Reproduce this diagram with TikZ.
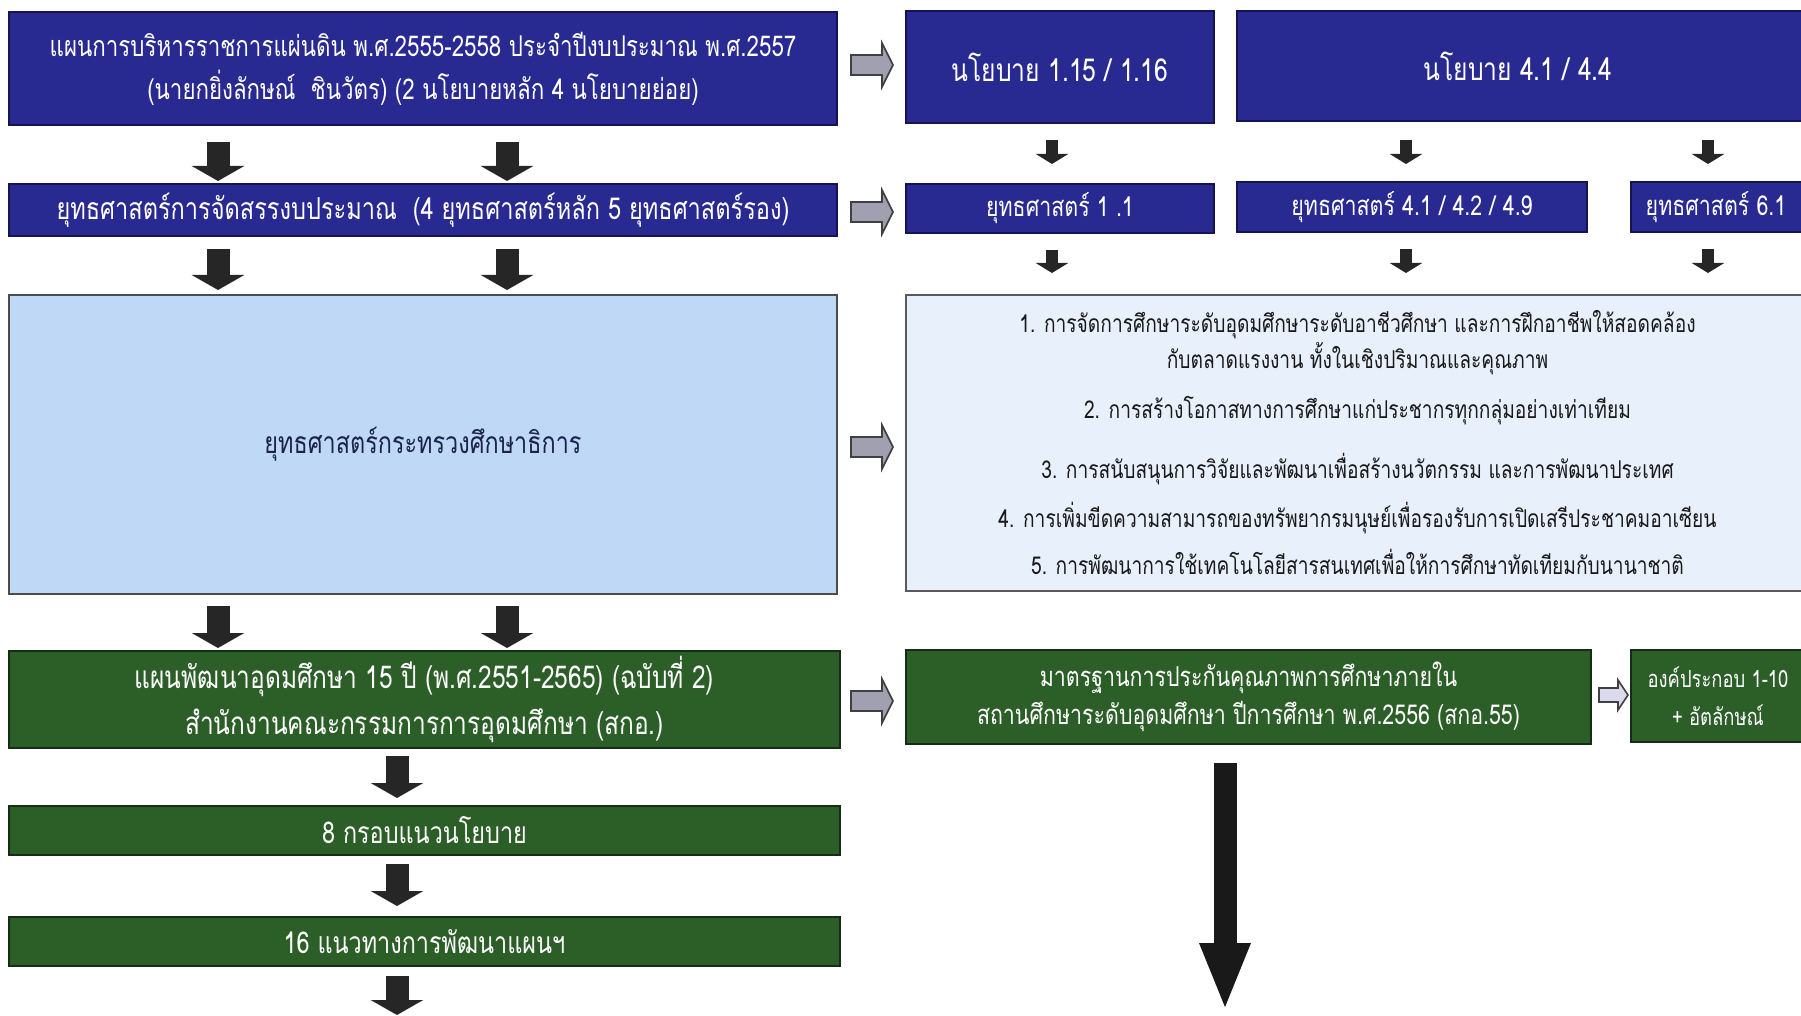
\documentclass[tikz,border=0pt]{standalone}
\usepackage{fontspec}
\setmainfont[Script=Thai, FakeStretch=0.78]{Loma}
\usetikzlibrary{arrows.meta,calc}
\definecolor{bluebox}{RGB}{40,42,146}
\definecolor{blueedge}{RGB}{20,20,80}
\definecolor{greenbox}{RGB}{44,94,40}
\definecolor{greenedge}{RGB}{20,45,20}
\definecolor{lightbluebox}{RGB}{190,216,246}
\definecolor{paleblue}{RGB}{232,240,252}
\definecolor{grayarrow}{RGB}{160,160,176}
\definecolor{palearrow}{RGB}{218,218,236}
\definecolor{navytext}{RGB}{25,35,75}
\tikzset{
  box/.style={rectangle, inner sep=0pt, outer sep=0pt, align=center, line width=1.2pt},
  bluebx/.style={box, fill=bluebox, draw=blueedge, text=white},
  greenbx/.style={box, fill=greenbox, draw=greenedge, text=white},
  blk/.style={line width=11.5pt, black!85, -{Triangle[width=26pt,length=7.5pt]}},
  blksmall/.style={line width=6pt, black!85, -{Triangle[width=16pt,length=5pt]}},
  blkbig/.style={line width=11.5pt, black!90, -{Triangle[width=23pt,length=34pt]}},
  garrow/.pic={\draw[fill=grayarrow, draw=black!75, line width=0.8pt]
     (0,-10) -- (31,-10) -- (31,-22) -- (42,0) -- (31,22) -- (31,10) -- (0,10) -- cycle;},
  garrowsmall/.pic={\draw[fill=palearrow, draw=black!75, line width=0.8pt]
     (0,-7) -- (19,-7) -- (19,-15) -- (29,0) -- (19,15) -- (19,7) -- (0,7) -- cycle;},
  mid/.style={font=\fontsize{13.7}{19}\selectfont},
}
\begin{document}
\begin{tikzpicture}[x=0.5pt,y=-0.5pt]
\useasboundingbox[fill=white] (0,0) rectangle (1801,1016);
% left column
\node[bluebx, font=\fontsize{14.3}{21.5}\selectfont, minimum width=414pt, minimum height=56.5pt] (A) at (423,68.5)
  {แผนการบริหารราชการแผ่นดิน พ.ศ.2555-2558 ประจำปีงบประมาณ พ.ศ.2557\\(นายกยิ่งลักษณ์~~ชินวัตร) (2 นโยบายหลัก 4 นโยบายย่อย)};
\node[bluebx, font=\fontsize{15.1}{21}\selectfont, minimum width=414pt, minimum height=26pt] (D) at (423,210)
  {ยุทธศาสตร์การจัดสรรงบประมาณ~~(4 ยุทธศาสตร์หลัก 5 ยุทธศาสตร์รอง)};
\node[box, fill=lightbluebox, draw=black!70, text=navytext, font=\fontsize{15}{21}\selectfont, minimum width=414pt, minimum height=149.5pt] (H) at (423,444.5)
  {ยุทธศาสตร์กระทรวงศึกษาธิการ};
\node[greenbx, font=\fontsize{15.7}{23}\selectfont, minimum width=415.5pt, minimum height=48.5pt] (J) at (424.5,699.5)
  {แผนพัฒนาอุดมศึกษา 15 ปี (พ.ศ.2551-2565) (ฉบับที่ 2)\\สำนักงานคณะกรรมการการอุดมศึกษา (สกอ.)};
\node[greenbx, font=\fontsize{15}{21}\selectfont, minimum width=415.5pt, minimum height=24.5pt] (M) at (424.5,830.5) {8 กรอบแนวนโยบาย};
\node[greenbx, font=\fontsize{15}{21}\selectfont, minimum width=415.5pt, minimum height=24.5pt] (N) at (424.5,941.5) {16 แนวทางการพัฒนาแผนฯ};
% right side
\node[bluebx, font=\fontsize{15.8}{21}\selectfont, minimum width=154pt, minimum height=56pt] (B) at (1060,67) {นโยบาย 1.15 / 1.16};
\node[bluebx, font=\fontsize{15.8}{21}\selectfont, minimum width=286pt, minimum height=55pt] (C) at (1523,66) {\hspace*{-5pt}นโยบาย 4.1 / 4.4};
\node[bluebx, mid, minimum width=154pt, minimum height=24.5pt] (E) at (1060,208.5) {ยุทธศาสตร์ 1 .1};
\node[bluebx, mid, minimum width=175pt, minimum height=25pt] (F) at (1412,207) {ยุทธศาสตร์ 4.1 / 4.2 / 4.9};
\node[bluebx, mid, minimum width=89pt, minimum height=25pt] (G) at (1720,207) {\hspace*{-4pt}ยุทธศาสตร์ 6.1};
\node[box, fill=paleblue, draw=black!65, text=black!90, font=\fontsize{12.3}{18}\selectfont,
      minimum width=451.5pt, minimum height=148pt] (I) at (1357.5,443)
  {1. การจัดการศึกษาระดับอุดมศึกษาระดับอาชีวศึกษา และการฝึกอาชีพให้สอดคล้อง\\
   กับตลาดแรงงาน ทั้งในเชิงปริมาณและคุณภาพ\\[7pt]
   2. การสร้างโอกาสทางการศึกษาแก่ประชากรทุกกลุ่มอย่างเท่าเทียม\\[12pt]
   3. การสนับสนุนการวิจัยและพัฒนาเพื่อสร้างนวัตกรรม และการพัฒนาประเทศ\\[6.5pt]
   4. การเพิ่มขีดความสามารถของทรัพยากรมนุษย์เพื่อรองรับการเปิดเสรีประชาคมอาเซียน\\[5.5pt]
   5. การพัฒนาการใช้เทคโนโลยีสารสนเทศเพื่อให้การศึกษาทัดเทียมกับนานาชาติ};
\node[greenbx, font=\fontsize{13.7}{19}\selectfont, minimum width=342.5pt, minimum height=47pt] (K) at (1248.5,697)
  {มาตรฐานการประกันคุณภาพการศึกษาภายใน\\สถานศึกษาระดับอุดมศึกษา ปีการศึกษา พ.ศ.2556 (สกอ.55)};
\node[greenbx, font=\fontsize{11.8}{19}\selectfont, minimum width=89pt, minimum height=46pt] (L) at (1720,696)
  {\hspace*{-2pt}องค์ประกอบ 1-10\\\hspace*{-2pt}+ อัตลักษณ์};
% gray arrows
\pic at ($(A.east)+(14,-3.5)$) {garrow};
\pic at ($(D.east)+(14,2)$) {garrow};
\pic at ($(H.east)+(14,2.5)$) {garrow};
\pic at ($(J.east)+(11,1.5)$) {garrow};
\pic at ($(K.east)+(8,-2)$) {garrowsmall};
% black arrows left column
\draw[blk] ($(A.south west)+(209,17)$) -- ($(D.north west)+(209,-3)$);
\draw[blk] ($(A.south west)+(498,17)$) -- ($(D.north west)+(498,-3)$);
\draw[blk] ($(D.south west)+(209,13)$) -- ($(H.north west)+(209,-5)$);
\draw[blk] ($(D.south west)+(498,13)$) -- ($(H.north west)+(498,-5)$);
\draw[blk] ($(H.south west)+(209,12)$) -- ($(J.north west)+(209,-3)$);
\draw[blk] ($(H.south west)+(498,12)$) -- ($(J.north west)+(498,-3)$);
\draw[blk] ($(J.south west)+(388,8)$) -- ($(M.north west)+(388,-8)$);
\draw[blk] ($(M.south west)+(388,9)$) -- ($(N.north west)+(388,-11)$);
\coordinate (Nend) at ($(N.south west)+(388,49)$);
\draw[blk] ($(N.south west)+(388,10)$) -- (Nend);
% small black arrows right
\draw[blksmall] ($(B.south)+(-8,17)$) -- ($(E.north)+(-8,-20)$);
\draw[blksmall] ($(C.south west)+(169,19)$) -- ($(F.north)+(-6,-18)$);
\draw[blksmall] ($(C.south west)+(471,19)$) -- ($(G.north)+(-12,-18)$);
\draw[blksmall] ($(E.south)+(-8,17)$) -- ($(I.north west)+(146,-22)$);
\draw[blksmall] ($(F.south)+(-6,17)$) -- ($(I.north west)+(500,-22)$);
\draw[blksmall] ($(G.south)+(-12,17)$) -- ($(I.north west)+(802,-22)$);
% big arrow
\coordinate (Kend) at ($(K.south)+(-23.5,267)$);
\draw[blkbig] ($(K.south)+(-23.5,19)$) -- (Kend);
\end{tikzpicture}
\end{document}
